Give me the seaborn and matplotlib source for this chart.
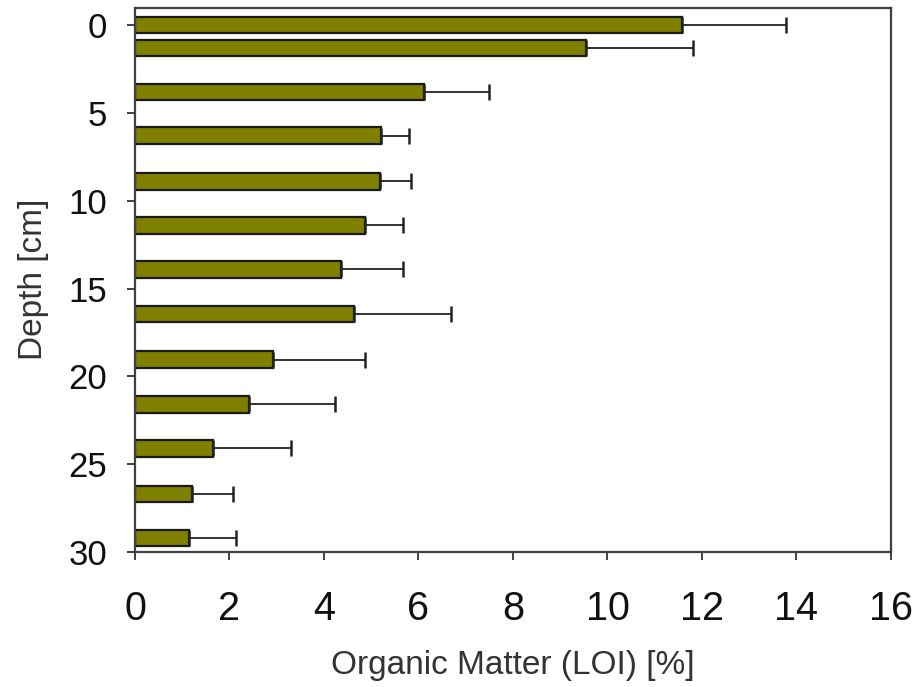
import matplotlib
matplotlib.use("Agg")
import matplotlib.pyplot as plt
import seaborn as sns
import pandas as pd
import numpy as np

# Sampling depths (cm) of each layer
depth_cm = [0.0, 1.3, 3.8, 6.3, 8.9, 11.4, 13.9, 16.45, 19.05, 21.6, 24.1, 26.7, 29.2]
# Mean organic matter content (loss on ignition, %)
loi_mean = [11.57, 9.54, 6.11, 5.21, 5.18, 4.87, 4.36, 4.63, 2.93, 2.42, 1.65, 1.20, 1.15]
# Standard deviation (%)
loi_sd = [2.20, 2.28, 1.39, 0.58, 0.67, 0.80, 1.31, 2.06, 1.94, 1.82, 1.65, 0.88, 0.98]

x_ticks = [0, 2, 4, 6, 8, 10, 12, 14, 16]
y_ticks = [0, 5, 10, 15, 20, 25, 30]

df = pd.DataFrame({"depth": depth_cm, "loi": loi_mean, "sd": loi_sd})

sns.set_theme(style="white")
plt.rcParams["font.family"] = ["Liberation Sans", "DejaVu Sans"]

fig = plt.figure(figsize=(9.19, 6.87), dpi=100)
ax = fig.add_axes([0.1469, 0.1965, 0.8226, 0.7925])

bar_height = 0.95
min_gap = np.min(np.diff(np.unique(df["depth"])))
sns.barplot(data=df, x="loi", y="depth", orient="y", native_scale=True,
            width=bar_height / min_gap, color="#808000", saturation=1,
            edgecolor="#1a1a1a", linewidth=1.6, errorbar=None, ax=ax)

# one-sided error bars to the right of each bar
ax.errorbar(df["loi"], df["depth"], xerr=[np.zeros(len(df)), df["sd"]],
            fmt="none", ecolor="#222222", elinewidth=1.3, capsize=5.5,
            capthick=1.8, zorder=3)

ax.set_xlim(0, 16)
ax.set_ylim(30, -1)
ax.set_xticks(x_ticks)
ax.set_yticks(y_ticks)
ax.tick_params(axis="x", labelsize=28.5, direction="out", length=5.5, width=1.3,
               color="#333333", pad=22, bottom=True, labelcolor="#111111")
ax.tick_params(axis="y", labelsize=25, direction="out", length=6, width=1.3,
               color="#333333", pad=14, left=True, labelcolor="#111111")
for s in ax.spines.values():
    s.set_color("#404040")
    s.set_linewidth(1.6)

ax.set_xlabel("Organic Matter (LOI) [%]", fontsize=24, color="#333333", labelpad=16)
ax.set_ylabel("Depth [cm]", fontsize=24, color="#333333", labelpad=14)

fig.savefig("out.png", dpi=100)
